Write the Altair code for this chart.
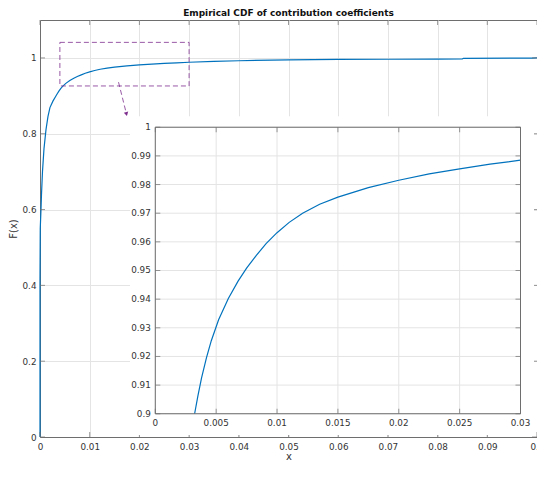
import altair as alt
import pandas as pd

# ---- data ----
cdf_x = [0, 0, 0.00005, 0.0002, 0.0003, 0.0005, 0.0008, 0.0012, 0.0016, 0.002,
         0.0026, 0.00323, 0.0035, 0.0038, 0.0042, 0.0046, 0.0052, 0.006, 0.0068,
         0.0075, 0.0083, 0.0091, 0.01, 0.011, 0.0121, 0.0135, 0.015, 0.0175,
         0.02, 0.0225, 0.025, 0.0275, 0.03, 0.035, 0.04, 0.05,
         0.06, 0.07, 0.08, 0.085, 0.0852, 0.099, 0.1]
cdf_F = [0, 0.42, 0.55, 0.6, 0.64, 0.7, 0.76, 0.81, 0.845, 0.869,
         0.886, 0.9, 0.9062, 0.9125, 0.9195, 0.9255, 0.9328, 0.9402, 0.9463,
         0.9508, 0.9553, 0.9594, 0.9632, 0.9668, 0.97, 0.9731, 0.9756, 0.9789,
         0.9815, 0.9837, 0.9855, 0.9871, 0.9885, 0.991, 0.9925, 0.995,
         0.996, 0.9965, 0.997, 0.9975, 0.999, 0.9995, 1.0]

main_x_ticks = [0, 0.01, 0.02, 0.03, 0.04, 0.05, 0.06, 0.07, 0.08, 0.09, 0.1]
main_y_ticks = [0, 0.2, 0.4, 0.6, 0.8, 1.0]
inset_x_ticks = [0, 0.005, 0.01, 0.015, 0.02, 0.025, 0.03]
inset_x_labels = ["0", "0.005", "0.01", "0.015", "0.02", "0.025", "0.03"]
inset_y_ticks = [0.9, 0.91, 0.92, 0.93, 0.94, 0.95, 0.96, 0.97, 0.98, 0.99, 1.0]
inset_y_labels = ["0.9", "0.91", "0.92", "0.93", "0.94", "0.95", "0.96", "0.97",
                  "0.98", "0.99", "1"]
box_x = [0.004]
box_x2 = [0.03]
box_y = [0.926]
box_y2 = [1.041]
arrow_x = [0.0158, 0.0174]
arrow_F = [0.936, 0.852]

# ---- layout / style ----
W, H = 497, 417
S = H / 425.0
IN_X0, IN_X1 = 115.3, 480.5      # inset plot area (pixels, relative to main plot)
IN_Y0, IN_Y1 = 401.3 * S, 109.3 * S
BG_X0, BG_X1, BG_Y0, BG_Y1 = 90, 494, 98 * S, 423 * S
BLUE = "#0072BD"
PURPLE = "#7E2F8E"
AXC = "#6e6e6e"
GRID = "#e4e4e4"
TXT = "#333333"
FONT = "DejaVu Sans"
LAB = 8.8

df = pd.DataFrame({"x": cdf_x, "F": cdf_F, "i": list(range(len(cdf_x)))})
one = pd.DataFrame({"k": [0]})

xs_main = alt.Scale(domain=[0, 0.1], nice=False, zero=False)
ys_main = alt.Scale(domain=[0, 1.1], nice=False, zero=False)
xs_in = alt.Scale(domain=[0, 0.03], range=[IN_X0, IN_X1], nice=False, zero=False)
ys_in = alt.Scale(domain=[0.9, 1.0], range=[IN_Y0, IN_Y1], nice=False, zero=False)

main_line = alt.Chart(df).mark_line(color=BLUE, strokeWidth=1.2).encode(
    x=alt.X("x:Q", scale=xs_main,
            axis=alt.Axis(values=main_x_ticks, format="~g", title="x", grid=True,
                          labelPadding=5, titlePadding=1)),
    y=alt.Y("F:Q", scale=ys_main,
            axis=alt.Axis(values=main_y_ticks, format="~g", title="F(x)", grid=True,
                          labelPadding=4, titlePadding=4)),
    order="i:Q",
)

box = alt.Chart(pd.DataFrame({"x": box_x, "x2": box_x2, "y": box_y, "y2": box_y2})).mark_rect(
    fillOpacity=0, stroke=PURPLE, strokeDash=[5, 3], strokeWidth=1, strokeOpacity=0.8
).encode(
    x=alt.X("x:Q", scale=xs_main, axis=None), x2="x2:Q",
    y=alt.Y("y:Q", scale=ys_main, axis=None), y2="y2:Q",
)

arrow_df = pd.DataFrame({"x": arrow_x, "F": arrow_F, "i": [0, 1]})
arrow = alt.Chart(arrow_df).mark_line(color=PURPLE, strokeDash=[5, 3], strokeWidth=1,
                                      strokeOpacity=0.8).encode(
    x=alt.X("x:Q", scale=xs_main, axis=None),
    y=alt.Y("F:Q", scale=ys_main, axis=None),
    order="i:Q",
)
arrow_head = alt.Chart(arrow_df.iloc[[1]]).mark_point(
    shape="triangle-down", filled=True, size=20, angle=346, color=PURPLE, opacity=1
).encode(
    x=alt.X("x:Q", scale=xs_main, axis=None),
    y=alt.Y("F:Q", scale=ys_main, axis=None),
)

mxt = pd.DataFrame({"t": main_x_ticks})
myt = pd.DataFrame({"t": main_y_ticks})
tk = dict(color=AXC, thickness=1, size=5)
m_bottom = alt.Chart(mxt).mark_tick(orient="vertical", yOffset=-2.5, **tk).encode(
    x=alt.X("t:Q", scale=xs_main, axis=None), y=alt.value(H))
m_top = alt.Chart(mxt).mark_tick(orient="vertical", yOffset=2.5, **tk).encode(
    x=alt.X("t:Q", scale=xs_main, axis=None), y=alt.value(0))
m_left = alt.Chart(myt).mark_tick(orient="horizontal", xOffset=2.5, **tk).encode(
    y=alt.Y("t:Q", scale=ys_main, axis=None), x=alt.value(0))
m_right = alt.Chart(myt).mark_tick(orient="horizontal", xOffset=-2.5, **tk).encode(
    y=alt.Y("t:Q", scale=ys_main, axis=None), x=alt.value(W))

# ---- inset ----
bg = alt.Chart(one).mark_rect(color="white").encode(
    x=alt.value(BG_X0), x2=alt.value(BG_X1), y=alt.value(BG_Y0), y2=alt.value(BG_Y1))

ixt = pd.DataFrame({"t": inset_x_ticks, "lab": inset_x_labels})
iyt = pd.DataFrame({"t": inset_y_ticks, "lab": inset_y_labels})

grid_v = alt.Chart(ixt).mark_rule(color=GRID, strokeWidth=1).encode(
    x=alt.X("t:Q", scale=xs_in, axis=None), y=alt.value(IN_Y1), y2=alt.value(IN_Y0))
grid_h = alt.Chart(iyt).mark_rule(color=GRID, strokeWidth=1).encode(
    y=alt.Y("t:Q", scale=ys_in, axis=None), x=alt.value(IN_X0), x2=alt.value(IN_X1))

inset_line = alt.Chart(df).transform_filter(
    (alt.datum.x <= 0.03) & (alt.datum.F >= 0.9)
).mark_line(color=BLUE, strokeWidth=1.2).encode(
    x=alt.X("x:Q", scale=xs_in, axis=None),
    y=alt.Y("F:Q", scale=ys_in, axis=None),
    order="i:Q",
)

frame = alt.Chart(one).mark_rect(fillOpacity=0, stroke=AXC, strokeWidth=1).encode(
    x=alt.value(IN_X0), x2=alt.value(IN_X1), y=alt.value(IN_Y1), y2=alt.value(IN_Y0))

i_bottom = alt.Chart(ixt).mark_tick(orient="vertical", yOffset=-2.5, **tk).encode(
    x=alt.X("t:Q", scale=xs_in, axis=None), y=alt.value(IN_Y0))
i_top = alt.Chart(ixt).mark_tick(orient="vertical", yOffset=2.5, **tk).encode(
    x=alt.X("t:Q", scale=xs_in, axis=None), y=alt.value(IN_Y1))
i_left = alt.Chart(iyt).mark_tick(orient="horizontal", xOffset=2.5, **tk).encode(
    y=alt.Y("t:Q", scale=ys_in, axis=None), x=alt.value(IN_X0))
i_right = alt.Chart(iyt).mark_tick(orient="horizontal", xOffset=-2.5, **tk).encode(
    y=alt.Y("t:Q", scale=ys_in, axis=None), x=alt.value(IN_X1))

i_xlab = alt.Chart(ixt).mark_text(font=FONT, fontSize=LAB, color=TXT, baseline="middle",
                                  align="center").encode(
    x=alt.X("t:Q", scale=xs_in, axis=None), y=alt.value(IN_Y0 + 9.5), text="lab:N")
i_ylab = alt.Chart(iyt).mark_text(font=FONT, fontSize=LAB, color=TXT, baseline="middle",
                                  align="right").encode(
    y=alt.Y("t:Q", scale=ys_in, axis=None), x=alt.value(IN_X0 - 4.5), text="lab:N")

chart = alt.layer(
    main_line, box, arrow, arrow_head, m_bottom, m_top, m_left, m_right,
    bg, grid_v, grid_h, inset_line, frame, i_bottom, i_top, i_left, i_right,
    i_xlab, i_ylab,
).resolve_scale(
    x="independent", y="independent"
).properties(
    width=W, height=H,
    title=alt.TitleParams("Empirical CDF of contribution coefficients", font=FONT,
                          fontSize=9, fontWeight="bold", color="#111111",
                          offset=2, frame="group", anchor="middle"),
    autosize=alt.AutoSizeParams(type="none"),
    padding={"left": 32, "top": 12, "right": 0, "bottom": 26},
).configure_view(
    stroke=AXC, strokeWidth=1
).configure_axis(
    ticks=False, domainColor=AXC, gridColor=GRID, labelFont=FONT, labelFontSize=LAB,
    labelColor=TXT, titleFont=FONT, titleFontSize=10, titleFontWeight="normal",
    titleColor=TXT, labelFlush=False,
)

chart.save("out.html", embed_options={"renderer": "svg", "actions": False})
